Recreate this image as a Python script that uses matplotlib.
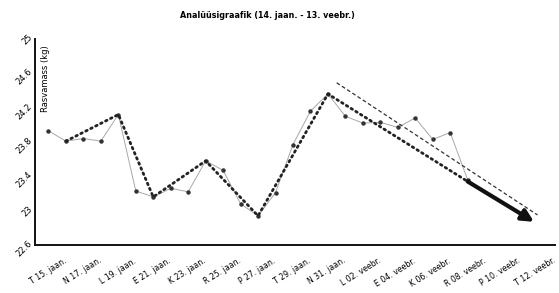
import matplotlib
matplotlib.use("Agg")
import matplotlib.pyplot as plt
from matplotlib.transforms import ScaledTranslation, blended_transform_factory

# Daily measurements: day offset from 15 Jan
days = [-1, 0, 1, 2, 3, 4, 5, 6, 7, 8, 9, 10, 11, 12, 13, 14, 15,
        16, 17, 18, 19, 20, 21, 22, 23]
mass = [23.93, 23.81, 23.84, 23.81, 24.12, 23.23, 23.16, 23.26, 23.22,
        23.58, 23.47, 23.08, 22.94, 23.21, 23.77, 24.16, 24.36,
        24.10, 24.02, 24.03, 23.97, 24.08, 23.83, 23.91, 23.36]

# Trend (zigzag) line through extremes
trend_days = [0, 3, 5, 8, 11, 15, 23]
trend_vals = [23.81, 24.12, 23.16, 23.58, 22.94, 24.36, 23.34]

# Dashed channel line
chan_days = [15.5, 27.0]
chan_vals = [24.49, 22.95]

# Forecast arrow
arrow_start = (23.0, 23.34)
arrow_end = (26.8, 22.87)

tick_days = list(range(0, 29, 2))
tick_labels = ["T 15. jaan.", "N 17. jaan.", "L 19. jaan.", "E 21. jaan.",
               "K 23. jaan.", "R 25. jaan.", "P 27. jaan.", "T 29. jaan.",
               "N 31. jaan.", "L 02. veebr.", "E 04. veebr.", "K 06. veebr.",
               "R 08. veebr.", "P 10. veebr.", "T 12. veebr."]
y_ticks = [22.6, 23.0, 23.4, 23.8, 24.2, 24.6, 25.0]
y_tick_labels = ["22.6", "23", "23.4", "23.8", "24.2", "24.6", "25"]

fig = plt.figure(figsize=(5.59, 2.93), dpi=100)
ax = fig.add_axes([35/559, 1-245/293, (555-35)/559, (245-39)/293])

ax.plot(days, mass, color="#a8a8a8", lw=0.7, marker="o", ms=2.2,
        mfc="#333333", mec="#333333", zorder=2)
ax.plot(trend_days, trend_vals, color="#222222", lw=2.0, ls=(0, (0.6, 1.4)),
        dash_capstyle="round", zorder=3)
ax.plot(chan_days, chan_vals, color="#333333", lw=0.9, ls=(0, (3, 2)), zorder=3)
ax.annotate("", xy=arrow_end, xytext=arrow_start,
            arrowprops=dict(arrowstyle="-|>,head_length=0.7,head_width=0.35",
                            color="#111111", lw=3.0, shrinkA=0, shrinkB=0),
            zorder=4)

ax.set_xlim(-1.77, 27.94)
ax.set_ylim(22.6, 25.0)
ax.set_xticks(tick_days)
ax.set_xticklabels([])
ax.set_yticks(y_ticks)
ax.set_yticklabels([])
ax.tick_params(axis="both", length=0)

xtr = blended_transform_factory(ax.transData, ax.transAxes) + \
    ScaledTranslation(-2/72, -8/72, fig.dpi_scale_trans)
for d, lab in zip(tick_days, tick_labels):
    ax.text(d, 0, lab, transform=xtr, rotation=32, ha="right", va="top",
            rotation_mode="anchor", fontsize=5.6, clip_on=False)

ytr = blended_transform_factory(ax.transAxes, ax.transData) + \
    ScaledTranslation(-3/72, 2/72, fig.dpi_scale_trans)
for v, lab in zip(y_ticks, y_tick_labels):
    ax.text(0, v, lab, transform=ytr, rotation=45, ha="right", va="center",
            rotation_mode="anchor", fontsize=6, clip_on=False)

for s in ["top", "right"]:
    ax.spines[s].set_visible(False)
for s in ["left", "bottom"]:
    ax.spines[s].set_linewidth(1.4)
    ax.spines[s].set_color("#111111")

ax.text(0.012, 0.97, "Rasvamass (kg)", transform=ax.transAxes, rotation=90,
        ha="left", va="top", fontsize=6)
fig.text(267/559, 1-16/293, "Analüüsigraafik (14. jaan. - 13. veebr.)",
         ha="center", va="center", fontsize=5.8, fontweight="bold")

fig.savefig("out.png", dpi=100)
